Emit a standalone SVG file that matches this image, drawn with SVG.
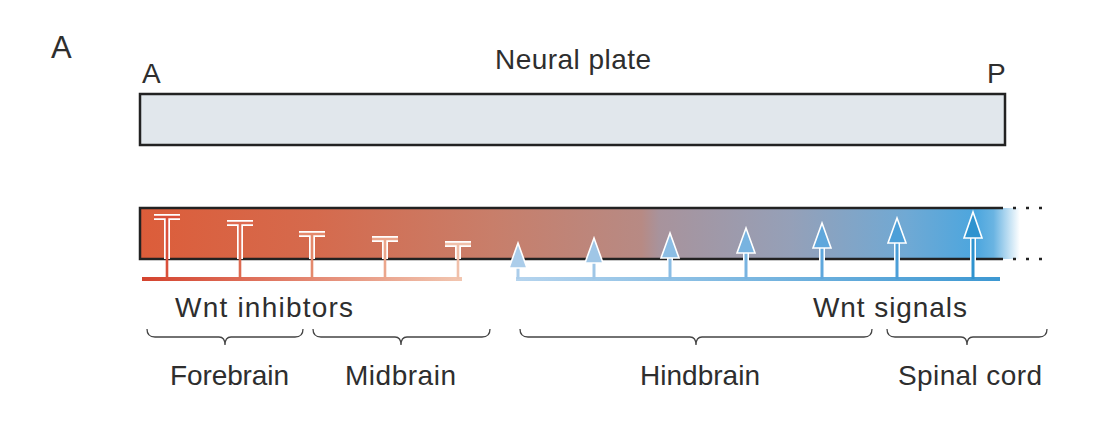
<svg xmlns="http://www.w3.org/2000/svg" width="1096" height="421" viewBox="0 0 1096 421">
<style>
text{font-family:"Liberation Sans",Arial,sans-serif;font-size:28px;fill:#2e2e2e}
.brace{fill:none;stroke:#444;stroke-width:1.3}
.frame{fill:none;stroke:#222;stroke-width:2.5}
.wo{fill:none;stroke:#fff;stroke-width:6}
.ah{stroke:#fff;stroke-width:1.6;stroke-linejoin:miter}
</style>
<defs>
<linearGradient id="barG" gradientUnits="userSpaceOnUse" x1="140" y1="0" x2="1020" y2="0">
<stop offset="0" stop-color="#dc5d3a"/>
<stop offset="0.2" stop-color="#d56a4d"/>
<stop offset="0.4" stop-color="#c87e6a"/>
<stop offset="0.57" stop-color="#b78a84"/>
<stop offset="0.59" stop-color="#a8939c"/>
<stop offset="0.74" stop-color="#95a0b8"/>
<stop offset="0.87" stop-color="#70a9d4"/>
<stop offset="0.95" stop-color="#4ca6de"/>
<stop offset="0.97" stop-color="#6ab4e2"/>
<stop offset="1" stop-color="#ffffff"/>
</linearGradient>
<linearGradient id="redL" gradientUnits="userSpaceOnUse" x1="142" y1="0" x2="462" y2="0">
<stop offset="0" stop-color="#d4432e"/>
<stop offset="1" stop-color="#f2c6b0"/>
</linearGradient>
<linearGradient id="blueL" gradientUnits="userSpaceOnUse" x1="516" y1="0" x2="1000" y2="0">
<stop offset="0" stop-color="#b5d4ee"/>
<stop offset="1" stop-color="#3d98d2"/>
</linearGradient>
</defs>

<text x="51" y="58" style="font-size:31px">A</text>

<g id="neural-plate">
<rect x="140" y="94" width="865" height="51" fill="#e1e7ec" stroke="#222" stroke-width="2.5"/>
<text x="142" y="83">A</text>
<text x="495" y="69" textLength="156" lengthAdjust="spacing">Neural plate</text>
<text x="987" y="83">P</text>
</g>

<g id="gradient-bar">
<rect x="140" y="208" width="880" height="51" fill="url(#barG)"/>
<path class="frame" d="M1003,208 H140 V259 H1003"/>
<path d="M1013,208 H1045 M1013,259 H1045" stroke="#222" stroke-width="2.5" stroke-dasharray="3 10"/>
</g>

<g id="connectors">
<g id="wnt-inhibitors">
<line x1="142" y1="279" x2="462" y2="279" stroke="url(#redL)" stroke-width="4"/>
<path class="wo" d="M167,217 V259 M154,217 H180"/>
<path d="M167,217 V279 M154,217 H180" fill="none" stroke="#d9503a" stroke-width="2.6"/>
<path class="wo" d="M240,223 V259 M227,223 H253"/>
<path d="M240,223 V279 M227,223 H253" fill="none" stroke="#dd6a50" stroke-width="2.6"/>
<path class="wo" d="M312,234 V259 M299,234 H325"/>
<path d="M312,234 V279 M299,234 H325" fill="none" stroke="#e4896c" stroke-width="2.6"/>
<path class="wo" d="M385,239 V259 M372,239 H398"/>
<path d="M385,239 V279 M372,239 H398" fill="none" stroke="#eba68c" stroke-width="2.6"/>
<path class="wo" d="M458,244 V259 M445,244 H471"/>
<path d="M458,244 V279 M445,244 H471" fill="none" stroke="#f0c0aa" stroke-width="2.6"/>
</g>
<g id="wnt-signals">
<line x1="516" y1="279" x2="1000" y2="279" stroke="url(#blueL)" stroke-width="4"/>
<line x1="518" y1="262" x2="518" y2="279" stroke="#abcdea" stroke-width="3"/>
<polygon class="ah" points="518,243 527,268 509,268" fill="#abcdea"/>
<path class="wo" d="M594,258 V262"/>
<line x1="594" y1="258" x2="594" y2="279" stroke="#9fc6e6" stroke-width="3"/>
<polygon class="ah" points="594,238 603,263 585,263" fill="#9fc6e6"/>
<path class="wo" d="M670,255 V262"/>
<line x1="670" y1="255" x2="670" y2="279" stroke="#8bbde4" stroke-width="3"/>
<polygon class="ah" points="670,233 679,258 661,258" fill="#8bbde4"/>
<path class="wo" d="M746,250 V262"/>
<line x1="746" y1="250" x2="746" y2="279" stroke="#78b3e0" stroke-width="3"/>
<polygon class="ah" points="746,228 755,253 737,253" fill="#78b3e0"/>
<path class="wo" d="M822,245 V262"/>
<line x1="822" y1="245" x2="822" y2="279" stroke="#5fa7dc" stroke-width="3"/>
<polygon class="ah" points="822,223 831,248 813,248" fill="#5fa7dc"/>
<path class="wo" d="M897,240 V262"/>
<line x1="897" y1="240" x2="897" y2="279" stroke="#4c9fd8" stroke-width="3"/>
<polygon class="ah" points="897,218 906,243 888,243" fill="#4c9fd8"/>
<path class="wo" d="M973,235 V262"/>
<line x1="973" y1="235" x2="973" y2="279" stroke="#2e93cf" stroke-width="3"/>
<polygon class="ah" points="973,212 982,238 964,238" fill="#2e93cf"/>
</g>
</g>

<g id="labels">
<text x="175" y="317" textLength="178" lengthAdjust="spacing">Wnt inhibtors</text>
<text x="813" y="317" textLength="154" lengthAdjust="spacing">Wnt signals</text>
</g>

<g id="forebrain">
<path class="brace" d="M147,329 Q147,337 155,337 H219 Q225,337 225,345 Q225,337 231,337 H295 Q303,337 303,329"/>
<text x="170" y="385" textLength="119" lengthAdjust="spacing">Forebrain</text>
</g>
<g id="midbrain">
<path class="brace" d="M313,329 Q313,337 321,337 H395 Q401,337 401,345 Q401,337 407,337 H482 Q490,337 490,329"/>
<text x="345" y="385" textLength="111" lengthAdjust="spacing">Midbrain</text>
</g>
<g id="hindbrain">
<path class="brace" d="M520,329 Q520,337 528,337 H690 Q696,337 696,345 Q696,337 702,337 H864 Q872,337 872,329"/>
<text x="640" y="385" textLength="120" lengthAdjust="spacing">Hindbrain</text>
</g>
<g id="spinal-cord">
<path class="brace" d="M887,329 Q887,337 895,337 H961 Q967,337 967,345 Q967,337 973,337 H1039 Q1047,337 1047,329"/>
<text x="898" y="385" textLength="144" lengthAdjust="spacing">Spinal cord</text>
</g>
</svg>
